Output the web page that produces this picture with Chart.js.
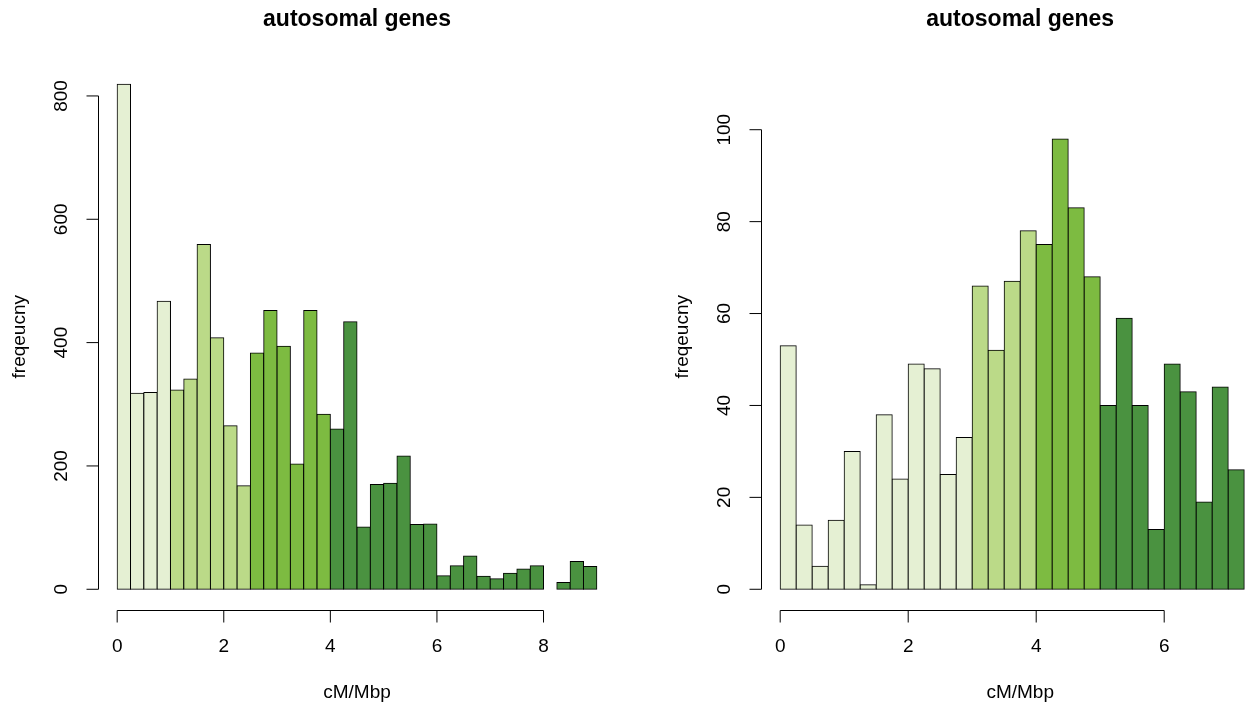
<!DOCTYPE html>
<html>
<head>
<meta charset="utf-8">
<title>autosomal genes</title>
<script src="https://cdn.jsdelivr.net/npm/chart.js@4.4.1/dist/chart.umd.min.js"></script>
<style>
  html, body { margin: 0; padding: 0; background: #fff; }
  #wrap { position: relative; width: 1257px; height: 707px; }
  canvas { position: absolute; top: 0; }
  #left-hist { left: 0; }
  #right-hist { left: 628px; }
</style>
</head>
<body>
<div id="wrap">
  <canvas id="left-hist" width="628" height="707"></canvas>
  <canvas id="right-hist" width="629" height="707"></canvas>
</div>
<script>
// histogram counts, bins of 0.25 cM/Mbp starting at 0
const binWidth = 0.25;
const leftCounts = [819, 318, 319, 467, 323, 341, 559, 408, 265, 168,
                    383, 452, 394, 203, 452, 284, 260, 434, 101, 170,
                    172, 216, 105, 106, 22, 38, 54, 21, 17, 26,
                    33, 38, 0, 11, 45, 37];
const rightCounts = [53, 14, 5, 15, 30, 1, 38, 24, 49, 48,
                     25, 33, 66, 52, 67, 78, 75, 98, 83, 68,
                     40, 59, 40, 13, 49, 43, 19, 44, 26, 0];

// fill colours by rate band
const greens = ['#e5f0d3', '#bbda88', '#7dbb41', '#4a9240'];
const leftColourBreaks = [1, 2.5, 4];
const rightColourBreaks = [3, 4, 5];

const leftXTicks = [0, 2, 4, 6, 8];
const leftYTicks = [0, 200, 400, 600, 800];
const rightXTicks = [0, 2, 4, 6];
const rightYTicks = [0, 20, 40, 60, 80, 100];

const mainTitle = 'autosomal genes';
const xTitle = 'cM/Mbp';
const yTitle = 'freqeucny';

const FONT = '"Liberation Sans", Arial, Helvetica, sans-serif';

function binPoints(counts) {
    return counts.map((c, i) => ({ x: i * binWidth + binWidth / 2, y: c }));
}

function binColours(counts, breaks) {
    return counts.map((c, i) => {
        const start = i * binWidth;
        let k = 0;
        while (k < breaks.length && start >= breaks[k]) k++;
        return greens[k];
    });
}

// R-style axes: lines only span first..last tick, sitting on the plot box edge
const rAxes = {
    id: 'rAxes',
    afterDraw(chart, args, opts) {
        const { ctx, chartArea } = chart;
        const xs = chart.scales.x, ys = chart.scales.y;
        ctx.save();
        ctx.strokeStyle = '#000';
        ctx.fillStyle = '#000';
        ctx.lineWidth = 1;

        // x axis
        const axY = Math.round(chartArea.bottom) + 0.5;
        const xa = xs.getPixelForValue(opts.xTicks[0]);
        const xb = xs.getPixelForValue(opts.xTicks[opts.xTicks.length - 1]);
        ctx.beginPath();
        ctx.moveTo(xa, axY);
        ctx.lineTo(xb, axY);
        opts.xTicks.forEach(v => {
            const px = xs.getPixelForValue(v);
            ctx.moveTo(px, axY);
            ctx.lineTo(px, axY + 12);
        });
        ctx.stroke();

        ctx.font = '19px ' + FONT;
        ctx.textAlign = 'center';
        ctx.textBaseline = 'alphabetic';
        opts.xTicks.forEach(v => {
            ctx.fillText(String(v), xs.getPixelForValue(v), 652);
        });

        const midX = xs.getPixelForValue(opts.mid);
        ctx.fillText(xTitle, midX, 698);

        ctx.font = 'bold 23px ' + FONT;
        ctx.fillText(mainTitle, midX, 26);

        // y axis
        const axX = Math.round(chartArea.left) + 0.5;
        const ya = ys.getPixelForValue(opts.yTicks[0]);
        const yb = ys.getPixelForValue(opts.yTicks[opts.yTicks.length - 1]);
        ctx.beginPath();
        ctx.moveTo(axX, ya);
        ctx.lineTo(axX, yb);
        opts.yTicks.forEach(v => {
            const py = ys.getPixelForValue(v);
            ctx.moveTo(axX, py);
            ctx.lineTo(axX - 12, py);
        });
        ctx.stroke();

        ctx.font = '19px ' + FONT;
        ctx.textBaseline = 'middle';
        opts.yTicks.forEach(v => {
            ctx.save();
            ctx.translate(axX - 37, ys.getPixelForValue(v));
            ctx.rotate(-Math.PI / 2);
            ctx.fillText(String(v), 0, 0);
            ctx.restore();
        });

        ctx.save();
        ctx.translate(axX - 79, (chartArea.top + chartArea.bottom) / 2);
        ctx.rotate(-Math.PI / 2);
        ctx.fillText(yTitle, 0, 0);
        ctx.restore();

        ctx.restore();
    }
};

function makeHist(canvasId, counts, colourBreaks, cfg) {
    return new Chart(document.getElementById(canvasId), {
        type: 'bar',
        data: {
            datasets: [{
                data: binPoints(counts),
                backgroundColor: binColours(counts, colourBreaks),
                borderColor: '#000',
                borderWidth: 1,
                borderSkipped: false,
                inflateAmount: 0.5,
                barPercentage: 1,
                categoryPercentage: 1
            }]
        },
        options: {
            responsive: false,
            animation: false,
            events: [],
            layout: { padding: cfg.padding },
            scales: {
                x: { type: 'linear', offset: false, min: cfg.xMin, max: cfg.xMax, display: false },
                y: { type: 'linear', min: cfg.yMin, max: cfg.yMax, display: false }
            },
            plugins: {
                legend: { display: false },
                title: { display: false },
                tooltip: { enabled: false },
                rAxes: { xTicks: cfg.xTicks, yTicks: cfg.yTicks, mid: cfg.mid }
            }
        },
        plugins: [rAxes]
    });
}

makeHist('left-hist', leftCounts, leftColourBreaks, {
    padding: { left: 98, right: 12, top: 64, bottom: 97.5 },
    xMin: -0.36, xMax: 9.36,
    yMin: -32.8, yMax: 851.8,
    xTicks: leftXTicks, yTicks: leftYTicks,
    mid: leftCounts.length * binWidth / 2
});

makeHist('right-hist', rightCounts, rightColourBreaks, {
    padding: { left: 133, right: 0, top: 64, bottom: 97.5 },
    xMin: -0.3, xMax: 7.45,
    yMin: -4.4, yMax: 114.3,
    xTicks: rightXTicks, yTicks: rightYTicks,
    mid: rightCounts.length * binWidth / 2
});
</script>
</body>
</html>
